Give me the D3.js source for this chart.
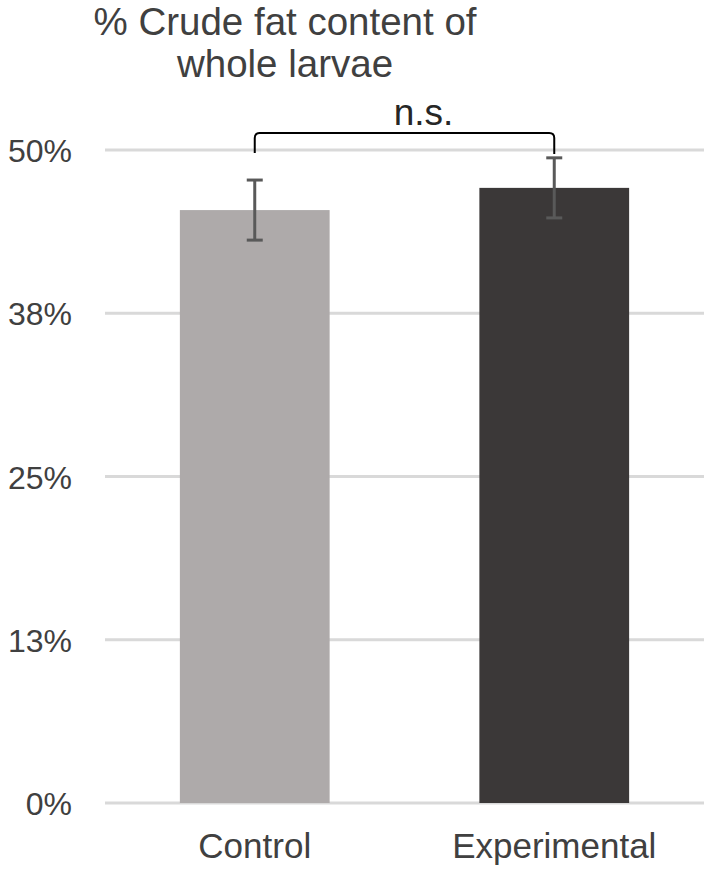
<!DOCTYPE html>
<html><head><meta charset="utf-8">
<script src="https://cdn.jsdelivr.net/npm/d3@7"></script>
<style>html,body{margin:0;padding:0;background:#fff;}svg{display:block;}</style>
</head><body>
<svg id="chart" width="709" height="871"></svg>
<script>
const categories = ["Control", "Experimental"];
const values = [45.4, 47.1];
const errors = [2.3, 2.3];
const tickValues = [0, 12.5, 25, 37.5, 50];
const tickLabels = ["0%", "13%", "25%", "38%", "50%"];
const titleLines = ["% Crude fat content of", "whole larvae"];
const sigLabel = "n.s.";
const barColors = ["#aeaaaa", "#3b3838"];

(function () {
const svg = d3.select("#chart");
const font = "'Liberation Sans', Arial, sans-serif";
const x = d3.scaleBand().domain(categories).range([105, 704]).paddingInner(0.5).paddingOuter(0.25);
const y = d3.scaleLinear().domain([0, 50]).range([803, 150]);

// gridlines
svg.append("g").selectAll("line").data(tickValues).join("line")
  .attr("x1", 105).attr("x2", 704)
  .attr("y1", d => y(d)).attr("y2", d => y(d))
  .attr("stroke", "#d9d9d9").attr("stroke-width", 3);

// y axis labels
const yAxis = d3.axisLeft(y).tickValues(tickValues).tickFormat((d, i) => tickLabels[i]).tickSize(0).tickPadding(0);
const gy = svg.append("g").attr("transform", "translate(72,0)").call(yAxis);
gy.select(".domain").remove();
gy.selectAll("text").attr("font-family", font).attr("font-size", 32).attr("fill", "#404040").attr("dy", "0.36em");

// bars
svg.append("g").selectAll("rect").data(values).join("rect")
  .attr("x", (d, i) => x(categories[i]))
  .attr("width", x.bandwidth())
  .attr("y", d => y(d))
  .attr("height", d => y(0) - y(d))
  .attr("fill", (d, i) => barColors[i]);

// error bars
const eg = svg.append("g").attr("stroke", "#595959").attr("stroke-width", 3);
values.forEach((v, i) => {
  const cx = x(categories[i]) + x.bandwidth() / 2;
  eg.append("line").attr("x1", cx).attr("x2", cx).attr("y1", y(v + errors[i])).attr("y2", y(v - errors[i]));
  [v + errors[i], v - errors[i]].forEach(e => {
    eg.append("line").attr("x1", cx - 8).attr("x2", cx + 8).attr("y1", y(e)).attr("y2", y(e));
  });
});

// x axis labels
const xAxis = d3.axisBottom(x).tickSize(0).tickPadding(0);
const gx = svg.append("g").attr("transform", "translate(0,858)").call(xAxis);
gx.select(".domain").remove();
gx.selectAll("text").attr("font-family", font).attr("font-size", 35).attr("fill", "#404040").attr("dy", 0);

// significance bracket
const x1 = x(categories[0]) + x.bandwidth() / 2;
const x2 = x(categories[1]) + x.bandwidth() / 2;
const bTop = 133, r = 5;
const p = d3.path();
p.moveTo(x1, 153); p.lineTo(x1, bTop + r); p.quadraticCurveTo(x1, bTop, x1 + r, bTop);
p.lineTo(x2 - r, bTop); p.quadraticCurveTo(x2, bTop, x2, bTop + r); p.lineTo(x2, 154);
svg.append("path").attr("d", p.toString()).attr("fill", "none").attr("stroke", "#000").attr("stroke-width", 2);
svg.append("text").attr("x", (x1 + x2) / 2 + 19).attr("y", 125).attr("text-anchor", "middle")
  .attr("font-family", font).attr("font-size", 37).attr("fill", "#262626").text(sigLabel);

// title
svg.append("g").selectAll("text").data(titleLines).join("text")
  .attr("x", 285).attr("y", (d, i) => 35 + i * 42).attr("text-anchor", "middle")
  .attr("font-family", font).attr("font-size", 38.5).attr("fill", "#404040").text(d => d);
})();
</script>
</body></html>
